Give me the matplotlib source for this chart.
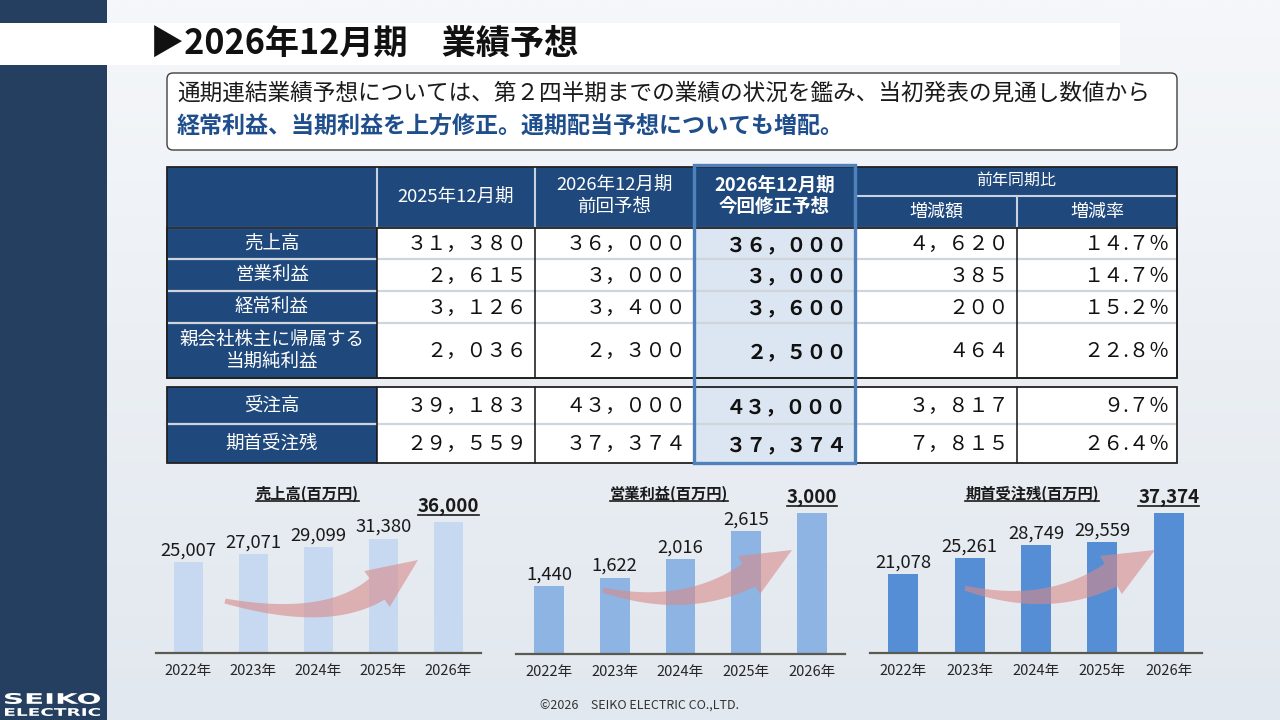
import numpy as np
import matplotlib
matplotlib.use('Agg')
import matplotlib.pyplot as plt
from matplotlib.patches import Rectangle, FancyBboxPatch, Polygon, PathPatch
from matplotlib.textpath import TextPath
from matplotlib.font_manager import FontProperties
from matplotlib.transforms import Affine2D
from matplotlib.colors import LinearSegmentedColormap

plt.rcParams['font.family'] = ['Noto Sans CJK JP', 'DejaVu Sans']

# ---------------- data ----------------
title = '▶2026年12月期　業績予想'
summary_line1 = '通期連結業績予想については、第２四半期までの業績の状況を鑑み、当初発表の見通し数値から'
summary_line2 = '経常利益、当期利益を上方修正。通期配当予想についても増配。'

pl_items = ['売上高', '営業利益', '経常利益', '親会社株主に帰属する\n当期純利益']
pl_fy2025 = [31380, 2615, 3126, 2036]
pl_prev = [36000, 3000, 3400, 2300]
pl_rev = [36000, 3000, 3600, 2500]
pl_diff = [4620, 385, 200, 464]
pl_rate = [14.7, 14.7, 15.2, 22.8]

ord_items = ['受注高', '期首受注残']
ord_fy2025 = [39183, 29559]
ord_prev = [43000, 37374]
ord_rev = [43000, 37374]
ord_diff = [3817, 7815]
ord_rate = [9.7, 26.4]

col_headers = ['2025年12月期', '2026年12月期\n前回予想', '2026年12月期\n今回修正予想', '増減額', '増減率']
group_header = '前年同期比'

years = ['2022年', '2023年', '2024年', '2025年', '2026年']
sales = [25007, 27071, 29099, 31380, 36000]
op_income = [1440, 1622, 2016, 2615, 3000]
backlog = [21078, 25261, 28749, 29559, 37374]
chart_titles = ['売上高(百万円)', '営業利益(百万円)', '期首受注残(百万円)']
footer = '©2026　SEIKO ELECTRIC CO.,LTD.'

# ---------------- helpers ----------------
FW = str.maketrans('0123456789,%', '０１２３４５６７８９，％')
def fw(s):
    return s.translate(FW)

NAVY = '#1F497D'
SIDE = '#243F60'

fig = plt.figure(figsize=(12.8, 7.2), dpi=100)
base = fig.add_axes([0, 0, 1, 1])
base.set_xlim(0, 1280); base.set_ylim(720, 0); base.axis('off')

# background gradient
cm = LinearSegmentedColormap.from_list('bg', ['#F5F7FA', '#EBEFF4', '#E2E8EF'])
grad = np.linspace(0, 1, 256)[:, None]
base.imshow(grad, extent=[0, 1280, 720, 0], aspect='auto', cmap=cm, zorder=0)

# side bar + title band
base.add_patch(Rectangle((0, 0), 107, 720, fc=SIDE, ec='none', zorder=1))
base.add_patch(Rectangle((0, 23), 1120, 42, fc='white', ec='none', zorder=2))
base.text(150, 43, title, fontsize=24.6, fontweight='bold', color='#111111',
          ha='left', va='center', zorder=3)

# logo
def stretched_text(ax, s, x0, y_top, w, h):
    tp = TextPath((0, 0), s, size=1, prop=FontProperties(family='DejaVu Sans', weight='bold'))
    bb = tp.get_extents()
    tr = Affine2D().translate(-bb.x0, -bb.y0).scale(w / bb.width, -h / bb.height).translate(x0, y_top + h)
    ax.add_patch(PathPatch(tr.transform_path(tp), fc='white', ec='none', zorder=3))
stretched_text(base, 'SEIKO', 5, 693, 95, 11)
stretched_text(base, 'ELECTRIC', 5, 708, 95, 8)

# summary box
base.add_patch(FancyBboxPatch((167, 73), 1010, 77, boxstyle='round,pad=0,rounding_size=6',
                              fc='white', ec='#404040', lw=1, zorder=2))
base.text(177, 93, summary_line1, fontsize=16.3, color='#1a1a1a', ha='left', va='center', zorder=3)
base.text(177, 127, summary_line2, fontsize=16.6, fontweight='bold', color='#1F4E8C',
          ha='left', va='center', zorder=3)

# ---------------- table ----------------
X = [167, 377, 535, 694, 855, 1017, 1177]
HDR_TOP, HDR_MID, HDR_BOT = 167, 196, 228
ROWS1 = [228, 259, 291, 323, 378]
ROWS2 = [387, 424, 463]

base.add_patch(Rectangle((X[3], 165), X[4] - X[3], 298, fc='#DCE6F2', ec='none', zorder=2))
base.add_patch(Rectangle((X[0], HDR_TOP), X[6] - X[0], HDR_BOT - HDR_TOP, fc=NAVY, ec='none', zorder=3))
for top, bot in [(ROWS1[0], ROWS1[-1]), (ROWS2[0], ROWS2[-1])]:
    base.add_patch(Rectangle((X[0], top), X[1] - X[0], bot - top, fc=NAVY, ec='none', zorder=3))
    base.add_patch(Rectangle((X[1], top), X[3] - X[1], bot - top, fc='white', ec='none', zorder=3))
    base.add_patch(Rectangle((X[4], top), X[6] - X[4], bot - top, fc='white', ec='none', zorder=3))

LIGHT = '#D0D5DC'
for x in [X[1], X[2], X[3], X[4]]:
    base.plot([x, x], [HDR_TOP, HDR_BOT], color='#C9D3E0', lw=1.5, zorder=4)
base.plot([X[5], X[5]], [HDR_MID, HDR_BOT], color='#C9D3E0', lw=1.5, zorder=4)
base.plot([X[4], X[6]], [HDR_MID, HDR_MID], color='#C9D3E0', lw=1.5, zorder=4)
base.plot([X[0], X[6]], [HDR_BOT, HDR_BOT], color='#C9D3E0', lw=1.5, zorder=4)
for rows in (ROWS1, ROWS2):
    for y in rows[1:-1]:
        base.plot([X[0], X[6]], [y, y], color=LIGHT, lw=1.6, zorder=4)
    for x in X[1:6]:
        base.plot([x, x], [rows[0], rows[-1]], color='#111111', lw=1.1, zorder=5)
    base.add_patch(Rectangle((X[0], rows[0]), X[6] - X[0], rows[-1] - rows[0], fc='none',
                             ec='#222222', lw=1.3, zorder=6))
base.add_patch(Rectangle((X[0], HDR_TOP), X[6] - X[0], ROWS1[-1] - HDR_TOP, fc='none',
                         ec='#222222', lw=1.3, zorder=6))

# header texts
base.text((X[1] + X[2]) / 2, 197, col_headers[0], fontsize=13.3, color='white', ha='center', va='center', zorder=7)
for k, bold in [(1, False), (2, True)]:
    l1, l2 = col_headers[k].split('\n')
    cx = (X[k + 1] + X[k + 2]) / 2
    fwt = 'bold' if bold else 'normal'
    base.text(cx, 185, l1, fontsize=13.3, color='white', ha='center', va='center', fontweight=fwt, zorder=7)
    base.text(cx, 207, l2, fontsize=13.3, color='white', ha='center', va='center', fontweight=fwt, zorder=7)
base.text((X[4] + X[6]) / 2, 180, group_header, fontsize=11.5, color='white', ha='center', va='center', zorder=7)
base.text((X[4] + X[5]) / 2, 212, col_headers[3], fontsize=13, color='white', ha='center', va='center', zorder=7)
base.text((X[5] + X[6]) / 2, 212, col_headers[4], fontsize=13, color='white', ha='center', va='center', zorder=7)

def fill_rows(rows, items, c1, c2, c3, c4, c5):
    for i, item in enumerate(items):
        cy = (rows[i] + rows[i + 1]) / 2
        lines = item.split('\n')
        if len(lines) == 1:
            base.text(272, cy, item, fontsize=13.3, color='white', ha='center', va='center', zorder=7)
        else:
            base.text(272, cy - 11, lines[0], fontsize=13.3, color='white', ha='center', va='center', zorder=7)
            base.text(272, cy + 11, lines[1], fontsize=13.3, color='white', ha='center', va='center', zorder=7)
        vals = [fw(f'{c1[i]:,}'), fw(f'{c2[i]:,}'), fw(f'{c3[i]:,}'), fw(f'{c4[i]:,}'), fw(f'{c5[i]:.1f}%')]
        for j, v in enumerate(vals):
            base.text(X[j + 2] - 8, cy + 1, v, fontsize=14.5, color='#111111', ha='right', va='center',
                      fontweight='bold' if j == 2 else 'normal', zorder=7)

fill_rows(ROWS1, pl_items, pl_fy2025, pl_prev, pl_rev, pl_diff, pl_rate)
fill_rows(ROWS2, ord_items, ord_fy2025, ord_prev, ord_rev, ord_diff, ord_rate)

base.add_patch(Rectangle((X[3], 165), X[4] - X[3], 298, fc='none', ec='#4F81BD', lw=2.4, zorder=8))

# ---------------- bar charts ----------------
underline_texts = []

def bar_chart(x0, x1, base_y, top_y, values, color, headroom):
    ax = fig.add_axes([x0 / 1280, 1 - base_y / 720, (x1 - x0) / 1280, (base_y - top_y) / 720])
    ax.patch.set_alpha(0)
    xs = np.arange(len(years))
    ax.bar(xs, values, width=0.45, color=color, zorder=2)
    ax.set_xlim(-0.5, len(years) - 0.5)
    ax.set_ylim(0, max(values) * headroom)
    for s in ['top', 'right', 'left']:
        ax.spines[s].set_visible(False)
    ax.spines['bottom'].set_color('#5A5A50')
    ax.spines['bottom'].set_linewidth(1.6)
    ax.set_yticks([])
    ax.set_xticks(xs)
    ax.set_xticklabels(years, fontsize=10.5, color='#262626')
    ax.tick_params(axis='x', length=0, pad=8)
    for i, v in enumerate(values[:-1]):
        ax.annotate(f'{v:,}', (xs[i], v), xytext=(0, 2), textcoords='offset points',
                    ha='center', va='bottom', fontsize=13.3, color='#1a1a1a')
    t = ax.annotate(f'{values[-1]:,}', (xs[-1], values[-1]), xytext=(0, 4), textcoords='offset points',
                    ha='center', va='bottom', fontsize=13.5, fontweight='bold', color='#1a1a1a')
    underline_texts.append(t)
    return ax

bar_chart(156, 481, 653, 480, sales, '#C6D9F1', 1.32)
bar_chart(516, 845, 654, 480, op_income, '#8EB4E3', 1.234)
bar_chart(870, 1202, 653, 480, backlog, '#558ED5', 1.236)

# ---------------- overlay ----------------
ov = fig.add_axes([0, 0, 1, 1], zorder=10)
ov.set_xlim(0, 1280); ov.set_ylim(720, 0); ov.axis('off'); ov.patch.set_alpha(0)

def curved_arrow(ax, start, bpt, tip, w0, w1, head_hw, sag, color='#D88A8A', alpha=0.6):
    start, bpt, tip = map(np.asarray, (start, bpt, tip))
    d = tip - bpt
    u = d / np.hypot(*d)
    chord = np.hypot(*(bpt - start))
    ctrl = bpt - u * sag * chord
    t = np.linspace(0, 1, 80)[:, None]
    B = (1 - t) ** 2 * start + 2 * t * (1 - t) * ctrl + t ** 2 * bpt
    dB = 2 * (1 - t) * (ctrl - start) + 2 * t * (bpt - ctrl)
    n = np.column_stack([-dB[:, 1], dB[:, 0]])
    n /= np.hypot(n[:, 0], n[:, 1])[:, None]
    w = (w0 + (w1 - w0) * t) / 2
    upper = B + n * w
    lower = B - n * w
    nh = np.array([-u[1], u[0]])
    pts = np.vstack([upper, [bpt + nh * head_hw], [tip], [bpt - nh * head_hw], lower[::-1]])
    ax.add_patch(Polygon(pts, closed=True, fc=color, ec='none', alpha=alpha, zorder=5))

curved_arrow(ov, (225, 601), (377, 589), (418, 560), 5, 26, 22, 0.4)
curved_arrow(ov, (603, 590), (749, 575), (792, 550), 5, 26, 22, 0.5)
curved_arrow(ov, (965, 588), (1111, 575), (1155, 550), 5, 26, 22, 0.5)

for cx, s in zip([307, 669, 1032], chart_titles):
    t = ov.text(cx, 494, s, fontsize=11, fontweight='bold', color='#1a1a1a', ha='center', va='center')
    underline_texts.append(t)

ov.text(639, 706, footer, fontsize=9, color='#333333', ha='center', va='center')

fig.canvas.draw()
r = fig.canvas.get_renderer()
for t in underline_texts:
    bb = t.get_window_extent(r)
    y = 720 - (bb.y0 + 1.5)
    ov.plot([bb.x0, bb.x1], [y, y], color='#1a1a1a', lw=1.2, zorder=6)

fig.savefig('out.png', dpi=100)
